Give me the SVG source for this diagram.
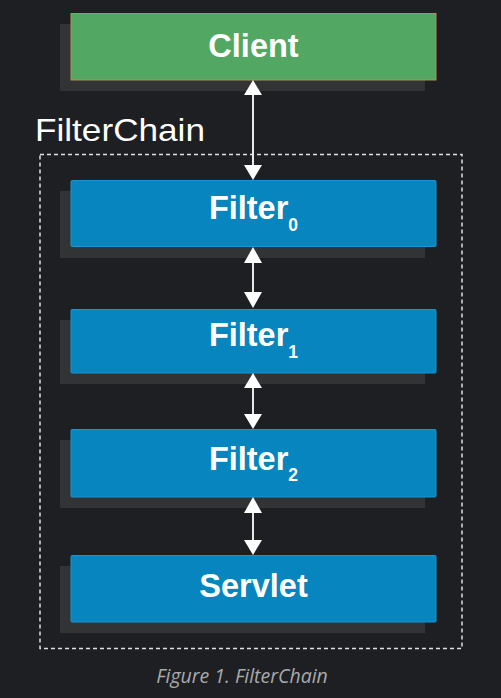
<svg xmlns="http://www.w3.org/2000/svg" width="501" height="698" viewBox="0 0 501 698">
<defs>
<style>
.shadow{fill:#323335}
.blue{fill:#0785bf;stroke:#1b95cf;stroke-width:1}
.lbl{font-family:"Liberation Sans",Arial,sans-serif;font-weight:bold;font-size:32.5px;fill:#ffffff;text-anchor:middle}
.sub{font-size:17.5px}
.conn{stroke:#e8e8e8;stroke-width:2;fill:none}
.head{fill:#ffffff}
</style>
</defs>
<rect x="0" y="0" width="501" height="698" fill="#1d1f23"/>
<g id="filterchain">
<rect x="40" y="154.5" width="422" height="494" fill="none" stroke="#e0e0e0" stroke-width="1.5" stroke-dasharray="4,3"/>
<text x="35" y="141" font-family="Liberation Sans,Arial,sans-serif" font-size="31.5" fill="#ffffff" textLength="170" lengthAdjust="spacingAndGlyphs">FilterChain</text>
</g>
<g id="client">
<rect class="shadow" x="60" y="24" width="365" height="67"/>
<rect x="71" y="13.5" width="365" height="66.5" fill="#52a862" stroke="#b0905a" stroke-width="1"/>
<text class="lbl" x="253.5" y="57">Client</text>
</g>
<g id="filter0">
<rect class="shadow" x="60" y="191" width="365" height="67"/>
<rect class="blue" x="71" y="180.5" width="365" height="66" rx="1"/>
<text class="lbl" x="253.5" y="219">Filter<tspan class="sub" dy="12">0</tspan></text>
</g>
<g id="filter1">
<rect class="shadow" x="60" y="320" width="365" height="64"/>
<rect class="blue" x="71" y="309.5" width="365" height="63.5" rx="1"/>
<text class="lbl" x="253.5" y="346">Filter<tspan class="sub" dy="12">1</tspan></text>
</g>
<g id="filter2">
<rect class="shadow" x="60" y="440" width="365" height="68"/>
<rect class="blue" x="71" y="429.5" width="365" height="67.5" rx="1"/>
<text class="lbl" x="253.5" y="470">Filter<tspan class="sub" dy="11">2</tspan></text>
</g>
<g id="servlet">
<rect class="shadow" x="60" y="566" width="365" height="67"/>
<rect class="blue" x="71" y="555.5" width="365" height="66.5" rx="1"/>
<text class="lbl" x="253.5" y="597">Servlet</text>
</g>
<g id="connectors">
<line class="conn" x1="253" y1="94" x2="253" y2="166"/>
<polygon class="head" points="253,80 244,95 262,95"/>
<polygon class="head" points="253,180 244,165 262,165"/>
<line class="conn" x1="253" y1="262" x2="253" y2="293"/>
<polygon class="head" points="253,247 244,263 262,263"/>
<polygon class="head" points="253,308 244,292 262,292"/>
<line class="conn" x1="253" y1="387" x2="253" y2="415"/>
<polygon class="head" points="253,373 244,388 262,388"/>
<polygon class="head" points="253,429 244,414 262,414"/>
<line class="conn" x1="253" y1="512" x2="253" y2="541"/>
<polygon class="head" points="253,497 244,513 262,513"/>
<polygon class="head" points="253,555 244,540 262,540"/>
</g>
<text x="242" y="683" font-family="Open Sans,sans-serif" font-style="italic" font-size="19.5" fill="#a9a9a9" text-anchor="middle">Figure 1. FilterChain</text>
</svg>
